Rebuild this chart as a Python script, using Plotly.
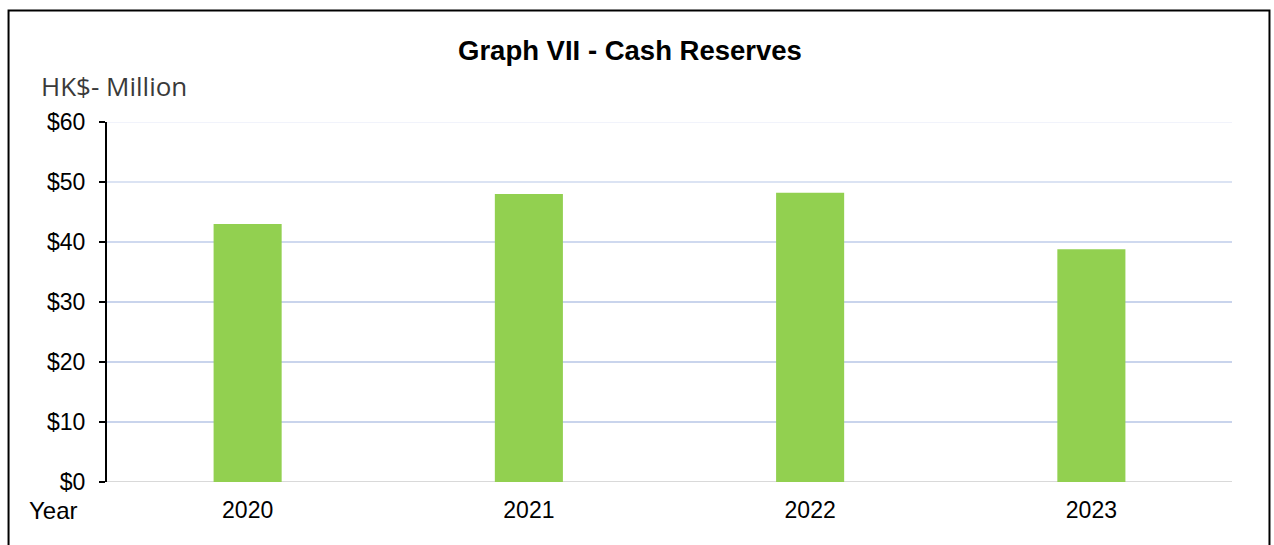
import plotly.graph_objects as go

# Cash reserves by year (HK$ million)
years = ["2020", "2021", "2022", "2023"]
cash_reserves = [43.0, 48.0, 48.2, 38.8]
tick_values = [0, 10, 20, 30, 40, 50, 60]
tick_labels = ["$0", "$10", "$20", "$30", "$40", "$50", "$60"]

W, H = 1274, 545
plot_left, plot_right = 106.5, 1232
plot_top, plot_bottom = 122.3, 482
plot_w = plot_right - plot_left
plot_h = plot_bottom - plot_top


def px_x(x):
    return (x - plot_left) / plot_w


def px_y(y):
    return (plot_bottom - y) / plot_h


fig = go.Figure(
    go.Bar(
        x=years,
        y=cash_reserves,
        marker=dict(color="#92d050", line=dict(width=0)),
        hoverinfo="x+y",
    )
)

# horizontal gridlines, fading toward the top
grid_colors = {10: "#c9d4ec", 20: "#c9d4ec", 30: "#c9d4ec", 40: "#cfd9ef",
               50: "#dbe3f3", 60: "#f1f3fb"}
shapes = []
for v in tick_values:
    if v == 0:
        continue
    shapes.append(dict(type="line", xref="paper", yref="y", x0=0, x1=1, y0=v, y1=v,
                       line=dict(color=grid_colors[v], width=2), layer="below"))
# baseline
shapes.append(dict(type="line", xref="paper", yref="y", x0=0, x1=1, y0=0, y1=0,
                   line=dict(color="#d9d9d9", width=2), layer="below"))
# outer frame
shapes.append(dict(type="rect", xref="paper", yref="paper",
                   x0=px_x(8), x1=px_x(1269.5), y0=px_y(11), y1=px_y(600),
                   line=dict(color="#000000", width=2), fillcolor="rgba(0,0,0,0)"))

fig.update_layout(
    width=W,
    height=H,
    margin=dict(l=plot_left, r=W - plot_right, t=plot_top, b=H - plot_bottom),
    paper_bgcolor="white",
    plot_bgcolor="white",
    bargap=0.758,
    showlegend=False,
    shapes=shapes,
    font=dict(family="Liberation Sans, Arial, sans-serif", color="#000000"),
    xaxis=dict(
        type="category",
        showline=False,
        showgrid=False,
        zeroline=False,
        ticks="",
        tickfont=dict(size=23, color="#000000"),
        ticklabelstandoff=12,
    ),
    yaxis=dict(
        range=[0, 60],
        tickmode="array",
        tickvals=tick_values,
        ticktext=tick_labels,
        showgrid=False,
        zeroline=False,
        showline=True,
        linecolor="#000000",
        linewidth=2,
        ticks="outside",
        ticklen=6,
        tickwidth=2,
        tickcolor="#000000",
        tickfont=dict(size=23, color="#000000"),
        ticklabelstandoff=9,
    ),
    annotations=[
        dict(text="<b>Graph VII - Cash Reserves</b>", xref="paper", yref="paper",
             x=px_x(630), y=px_y(51), xanchor="center", yanchor="middle",
             showarrow=False, font=dict(size=27.5, color="#000000",
                                        family="Liberation Sans, Arial, sans-serif")),
        dict(text="HK$- Million", xref="paper", yref="paper",
             x=px_x(38), y=px_y(86), xanchor="left", yanchor="middle",
             showarrow=False, font=dict(size=26, color="#3a3a3a",
                                        family="Open Sans, sans-serif")),
        dict(text="Year", xref="paper", yref="paper",
             x=px_x(26), y=px_y(510), xanchor="left", yanchor="middle",
             showarrow=False, font=dict(size=24, color="#000000",
                                        family="Liberation Sans, Arial, sans-serif")),
    ],
)

fig.write_html("out.html")
